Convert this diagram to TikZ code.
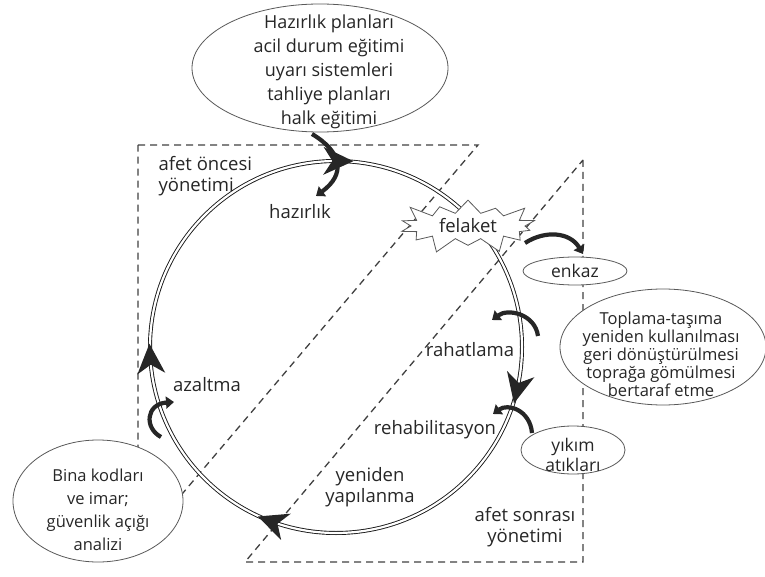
\documentclass[tikz,border=0pt]{standalone}
\usepackage{fontspec}
\setmainfont{Open Sans}
\usetikzlibrary{arrows.meta,shapes.geometric,shapes.symbols,decorations.markings}

\tikzset{
  phase/.style={font=\fontsize{18.5}{21}\selectfont, text=black!85, align=center},
  bubble/.style={ellipse, draw=black!65, line width=0.8pt, fill=white, inner sep=0pt},
  bubbletext/.style={font=\fontsize{16.5}{23}\selectfont, text=black!85, align=center},
  zone/.style={draw=black!75, line width=1.3pt, dash pattern=on 7pt off 5pt},
  ring/.style={draw=black!90, line width=0.9pt, double=white, double distance=2.2pt},
  curl/.style={draw=black!85, line width=4.2pt, -{Triangle[length=8pt,width=12pt]}},
  ringhead/.style={decoration={markings,
      mark=at position 0.036 with {\headshape},
      mark=at position 0.306 with {\headshape},
      mark=at position 0.490 with {\headshape},
      mark=at position 0.752 with {\headshape}}, decorate}
}
\newcommand{\headshape}{\fill[black!85] (15,0) -- (-15,14) -- (-6,0) -- (-15,-14) -- cycle;}

\begin{document}
\begin{tikzpicture}[x=1pt,y=-1pt]
   \useasboundingbox (0,0) rectangle (765,577);

   % dashed zones
   \draw[zone] (138,145) -- (478,145) -- (138,546) -- cycle;
   \draw[zone] (583,160) -- (583,562) -- (245,562) -- cycle;

   % cycle
   \coordinate (hub) at (336,347);
   \draw[ring] (hub) circle[radius=186];
   \path[ringhead] (hub) circle[radius=186];

   % bubbles
   \node[bubble, minimum width=256pt, minimum height=128pt](prep) at (320,68) {};
   \node[bubbletext, font=\fontsize{18}{24}\selectfont] at (329,72) {Hazırlık planları\\acil durum eğitimi\\uyarı sistemleri\\tahliye planları\\halk eğitimi};
   \node[bubble, minimum width=104pt, minimum height=28pt](debris) at (575,271) {};
   \node[bubbletext, font=\fontsize{17.5}{21}\selectfont] at (debris) {enkaz};
   \node[bubble, minimum width=206pt, minimum height=116pt](handling) at (663,347) {};
   \node[bubbletext, font=\fontsize{16.5}{18}\selectfont] at (661,354) {Toplama-taşıma\\yeniden kullanılması\\geri dönüştürülmesi\\toprağa gömülmesi\\bertaraf etme};
   \node[bubble, minimum width=104pt, minimum height=48pt](waste) at (573,450) {};
   \node[bubbletext, font=\fontsize{17.5}{20}\selectfont] at (573,455) {yıkım\\atıkları};
   \node[bubble, minimum width=170pt, minimum height=122pt](codes) at (98,501) {};
   \node[bubbletext] at (98,510) {Bina kodları\\ve imar;\\güvenlik açığı\\analizi};

   % disaster
   \node[starburst, draw=black!65, fill=white, line width=0.8pt, starburst points=14,
         starburst point height=18pt, minimum width=150pt, minimum height=62pt,
         inner sep=0pt, phase](disaster) at (468,226) {felaket};

   % phase labels
   \node[phase, align=left, anchor=west](prelbl) at (155,176) {afet öncesi\\yönetimi};
   \node[phase](hazlbl) at (300,212) {hazırlık};
   \node[phase](relief) at (470,350) {rahatlama};
   \node[phase](rehab) at (435,430) {rehabilitasyon};
   \node[phase](rebuild) at (370,487) {yeniden\\yapılanma};
   \node[phase](postlbl) at (525,527) {afet sonrası\\yönetimi};
   \node[phase](mitig) at (207,385) {azaltma};

   % curved arrows
   \coordinate (prepfoot) at (312,134);
   \coordinate (hazhead) at (316,196);
   \coordinate (burstfoot) at (525,243);
   \coordinate (debrishead) at (583,254);
   \coordinate (relieffoot) at (538,336);
   \coordinate (reliefhead) at (492,320);
   \coordinate (rehabfoot) at (532,433);
   \coordinate (rehabhead) at (493,414);
   \coordinate (mitigfoot) at (161,437);
   \coordinate (mitighead) at (174,402);
   \draw[curl] (prepfoot) .. controls (342,152) and (346,174) .. (hazhead);
   \draw[curl] (burstfoot) .. controls (545,230) and (570,232) .. (debrishead);
   \draw[curl] (relieffoot) .. controls (535,314) and (508,308) .. (reliefhead);
   \draw[curl] (rehabfoot) .. controls (530,410) and (508,403) .. (rehabhead);
   \draw[curl] (mitigfoot) .. controls (144,428) and (146,404) .. (mitighead);
\end{tikzpicture}
\end{document}
